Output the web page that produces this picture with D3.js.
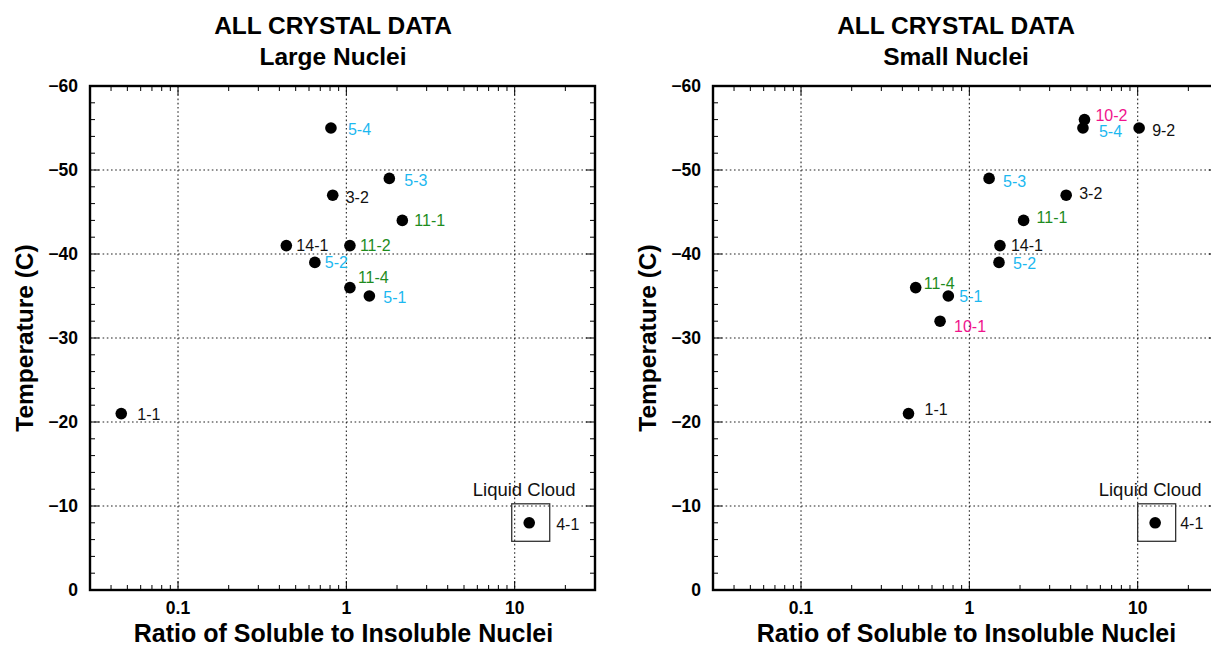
<!DOCTYPE html>
<html>
<head>
<meta charset="utf-8">
<script src="https://cdn.jsdelivr.net/npm/d3@7"></script>
<style>
  body { margin: 0; background: #fff; }
  svg { display: block; font-family: "Liberation Sans", Arial, Helvetica, sans-serif; }
</style>
</head>
<body>
<div id="chart"></div>
<script>
// ---- data ----
const ratioTicks = [0.1, 1, 10];
const tempTicks = [0, -10, -20, -30, -40, -50, -60];

const largeIds   = ["5-4", "5-3", "3-2", "11-1", "14-1", "11-2", "5-2", "11-4", "5-1", "1-1", "4-1"];
const largeRatio = [0.81, 1.8, 0.83, 2.15, 0.44, 1.05, 0.65, 1.05, 1.37, 0.046, 12.2];
const largeTemp  = [-55, -49, -47, -44, -41, -41, -39, -36, -35, -21, -8];

const smallIds   = ["10-2", "5-4", "9-2", "5-3", "3-2", "11-1", "14-1", "5-2", "11-4", "5-1", "10-1", "1-1", "4-1"];
const smallRatio = [4.83, 4.73, 10.2, 1.31, 3.76, 2.1, 1.52, 1.5, 0.48, 0.75, 0.67, 0.435, 12.7];
const smallTemp  = [-56, -55, -55, -49, -47, -44, -41, -39, -36, -35, -32, -21, -8];

const liquidCloudId = "4-1";

// label nudges (layout only), [dx, dy] from dot centre
const largeNudge = {
  "5-4": [17, 1], "5-3": [15, 2], "3-2": [13, 2], "11-1": [12, 0], "14-1": [10, 0],
  "11-2": [10, 0], "5-2": [10, 0], "11-4": [8, -10], "5-1": [14, 1], "1-1": [16, 1], "4-1": [27, 1]
};
const smallNudge = {
  "10-2": [11, -4], "5-4": [16, 3], "9-2": [13, 2], "5-3": [14, 3], "3-2": [13, -2],
  "11-1": [13, -3], "14-1": [11, 0], "5-2": [14, 1], "11-4": [8, -4], "5-1": [11, 0],
  "10-1": [14, 5], "1-1": [16, -4], "4-1": [25, 0]
};

// colour by run number
function labelColor(id) {
  const run = id.split("-")[0];
  if (run === "5") return "#1cb8f0";
  if (run === "11") return "#1e8c1e";
  if (run === "10") return "#f0148c";
  return "#111";
}

const W = 1211, H = 650;
const svg = d3.select("#chart").append("svg")
  .attr("width", W)
  .attr("height", H);

const plotW = 505, plotH = 504, plotTop = 86;

function drawPanel(left, subtitle, ids, ratios, temps, nudge) {
  const x = d3.scaleLog().domain([0.03, 30]).range([0, plotW]);
  const y = d3.scaleLinear().domain([0, -60]).range([plotH, 0]);

  const g = svg.append("g").attr("transform", `translate(${left},${plotTop})`);

  // grid (dotted)
  g.selectAll(".vgrid").data(ratioTicks).enter().append("line")
    .attr("x1", d => x(d)).attr("x2", d => x(d))
    .attr("y1", 0).attr("y2", plotH)
    .attr("stroke", "#222").attr("stroke-width", 1.1)
    .attr("stroke-dasharray", "1.6,2.6");
  g.selectAll(".hgrid").data(tempTicks.filter(t => t !== 0 && t !== -60)).enter().append("line")
    .attr("x1", 0).attr("x2", plotW)
    .attr("y1", d => y(d)).attr("y2", d => y(d))
    .attr("stroke", "#222").attr("stroke-width", 1.1)
    .attr("stroke-dasharray", "1.6,2.6");

  // minor ticks on x (top and bottom, inward)
  const minorX = [];
  [0.01, 0.1, 1, 10].forEach(dec => {
    for (let k = 2; k <= 9; k++) {
      const v = dec * k;
      if (v > 0.03 && v < 30) minorX.push(v);
    }
  });
  const tickG = g.append("g").attr("stroke", "#000").attr("stroke-width", 1);
  minorX.forEach(v => {
    tickG.append("line").attr("x1", x(v)).attr("x2", x(v)).attr("y1", plotH).attr("y2", plotH - 5);
    tickG.append("line").attr("x1", x(v)).attr("x2", x(v)).attr("y1", 0).attr("y2", 5);
  });
  ratioTicks.forEach(v => {
    tickG.append("line").attr("x1", x(v)).attr("x2", x(v)).attr("y1", plotH).attr("y2", plotH - 9);
    tickG.append("line").attr("x1", x(v)).attr("x2", x(v)).attr("y1", 0).attr("y2", 9);
  });
  // y ticks every 2 degrees, left and right
  d3.range(-2, -60, -2).forEach(v => {
    const len = v % 10 === 0 ? 9 : 5;
    tickG.append("line").attr("x1", 0).attr("x2", len).attr("y1", y(v)).attr("y2", y(v));
    tickG.append("line").attr("x1", plotW).attr("x2", plotW - len).attr("y1", y(v)).attr("y2", y(v));
  });

  // frame
  g.append("rect")
    .attr("x", 0).attr("y", 0).attr("width", plotW).attr("height", plotH)
    .attr("fill", "none").attr("stroke", "#000").attr("stroke-width", 2.4);

  // tick labels
  g.selectAll(".ytl").data(tempTicks).enter().append("text")
    .attr("x", -12).attr("y", d => y(d)).attr("dy", "0.36em")
    .attr("text-anchor", "end")
    .attr("font-size", 17.5).attr("font-weight", "bold")
    .text(d => d3.format("d")(d));
  g.selectAll(".xtl").data(ratioTicks).enter().append("text")
    .attr("x", d => x(d)).attr("y", plotH + 24)
    .attr("text-anchor", "middle")
    .attr("font-size", 17.5).attr("font-weight", "bold")
    .text(d => d);

  // axis titles
  g.append("text")
    .attr("x", plotW / 2 + 1).attr("y", plotH + 52)
    .attr("text-anchor", "middle")
    .attr("font-size", 25).attr("font-weight", "bold")
    .text("Ratio of Soluble to Insoluble Nuclei");
  g.append("text")
    .attr("transform", `translate(-57,${plotH / 2}) rotate(-90)`)
    .attr("text-anchor", "middle")
    .attr("font-size", 24.5).attr("font-weight", "bold")
    .text("Temperature (C)");

  // titles
  g.append("text")
    .attr("x", 243).attr("y", 34 - plotTop)
    .attr("text-anchor", "middle")
    .attr("font-size", 24.5).attr("font-weight", "bold")
    .text("ALL CRYSTAL DATA");
  g.append("text")
    .attr("x", 243).attr("y", 65 - plotTop)
    .attr("text-anchor", "middle")
    .attr("font-size", 24.5).attr("font-weight", "bold")
    .text(subtitle);

  const pts = ids.map((id, i) => ({ id, r: ratios[i], t: temps[i] }));

  // liquid cloud box + note
  const lc = pts.find(p => p.id === liquidCloudId);
  g.append("rect")
    .attr("x", x(lc.r) - 17.5).attr("y", y(lc.t) - 19)
    .attr("width", 38).attr("height", 37.5)
    .attr("fill", "none").attr("stroke", "#333").attr("stroke-width", 1.3);
  g.append("text")
    .attr("x", x(lc.r) - 5).attr("y", y(lc.t) - 27)
    .attr("text-anchor", "middle")
    .attr("font-size", 18.5).attr("fill", "#111")
    .text("Liquid Cloud");

  // points
  g.selectAll(".dot").data(pts).enter().append("circle")
    .attr("cx", d => x(d.r)).attr("cy", d => y(d.t))
    .attr("r", 5.8).attr("fill", "#000");

  g.selectAll(".lbl").data(pts).enter().append("text")
    .attr("x", d => x(d.r) + nudge[d.id][0])
    .attr("y", d => y(d.t) + nudge[d.id][1])
    .attr("dy", "0.36em")
    .attr("font-size", 16)
    .attr("fill", d => labelColor(d.id))
    .text(d => d.id);
}

drawPanel(90, "Large Nuclei", largeIds, largeRatio, largeTemp, largeNudge);
drawPanel(713, "Small Nuclei", smallIds, smallRatio, smallTemp, smallNudge);
</script>
</body>
</html>
